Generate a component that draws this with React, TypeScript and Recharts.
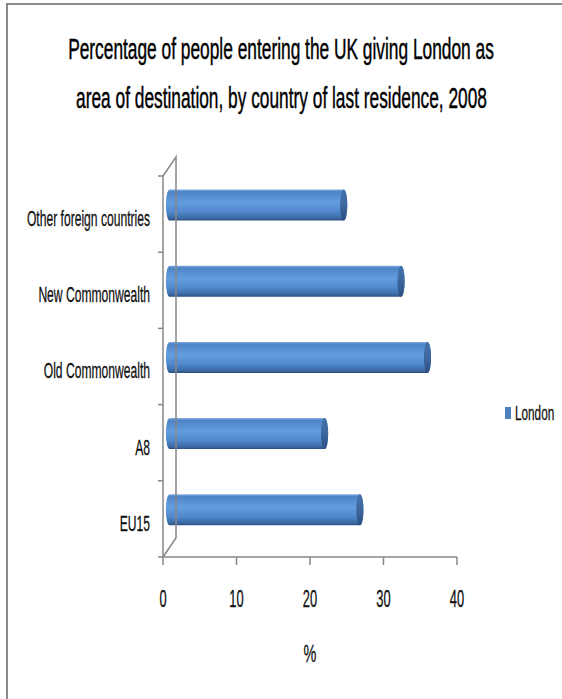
import React from 'react';
import { BarChart, Bar, XAxis, YAxis, Legend, ReferenceLine } from 'recharts';

const categories = ['Other foreign countries', 'New Commonwealth', 'Old Commonwealth', 'A8', 'EU15'];
const londonValues = [23.7, 31.5, 35.1, 21.1, 25.9];
const xTicks = [0, 10, 20, 30, 40];
const seriesName = 'London';
const titleLines = [
  'Percentage of people entering the UK giving London as',
  'area of destination, by country of last residence, 2008',
];
const xAxisTitle = '%';

const data = categories.map((c, i) => ({ category: c, [seriesName]: londonValues[i] }));

const AXIS = '#878787';
const TEXT = '#111';
const FONT = '"Liberation Sans", Arial, sans-serif';
const DEPTH_X = 13;
const DEPTH_Y = 19;

let measureCtx: CanvasRenderingContext2D | null = null;
function measureText(text: string, size: number): number {
  if (!measureCtx) {
    const c = document.createElement('canvas');
    measureCtx = c.getContext('2d');
  }
  if (!measureCtx) return text.length * size * 0.5;
  measureCtx.font = `${size}px "Liberation Sans"`;
  return measureCtx.measureText(text).width;
}

const XTick = (props: any) => {
  const { x, y, payload } = props;
  return (
    <g transform={`translate(${x},${y}) scale(0.56,1)`}>
      <text x={0} y={0} dy="0.71em" textAnchor="middle" fontSize={23} fill={TEXT} fontFamily={FONT} stroke={TEXT} strokeWidth={0.3}>
        {payload.value}
      </text>
    </g>
  );
};

const YTick = (props: any) => {
  const { x, y, payload } = props;
  const half = payload && typeof payload.offset === 'number' && payload.offset > 0 ? payload.offset : 38.1;
  const isLast = payload.index === categories.length - 1 || payload.value === categories[categories.length - 1];
  return (
    <g>
      <line x1={x + 8} x2={x + 13} y1={y - half} y2={y - half} stroke={AXIS} strokeWidth={1.5} />
      {isLast ? <line x1={x + 8} x2={x + 13} y1={y + half} y2={y + half} stroke={AXIS} strokeWidth={1.5} /> : null}
      <g transform={`translate(${x},${y + 4}) scale(0.55,1)`}>
        <text x={0} y={0} dy="0.355em" textAnchor="end" fontSize={22} fill={TEXT} fontFamily={FONT} stroke={TEXT} strokeWidth={0.3}>
          {payload.value}
        </text>
      </g>
    </g>
  );
};

const CylinderBar = (props: any) => {
  const { x, y, width, height, index } = props;
  if (width == null || height == null) return null;
  const dx = DEPTH_X / 2;
  const dy = -DEPTH_Y / 2;
  const x0 = x + dx;
  const x1 = x + dx + width;
  const y0 = y + dy;
  const h = height;
  const rx = 3.6;
  const ry = h / 2;
  const gid = `cyl-body-${index}`;
  const cid = `cyl-cap-${index}`;
  const body = `M ${x0} ${y0} L ${x1} ${y0} A ${rx} ${ry} 0 0 1 ${x1} ${y0 + h} L ${x0} ${y0 + h} A ${rx} ${ry} 0 0 1 ${x0} ${y0} Z`;
  return (
    <g>
      <defs>
        <linearGradient id={gid} x1="0" y1="0" x2="0" y2="1">
          <stop offset="0%" stopColor="#86b0e4" />
          <stop offset="7%" stopColor="#4d84c6" />
          <stop offset="42%" stopColor="#639de0" />
          <stop offset="72%" stopColor="#5088cb" />
          <stop offset="92%" stopColor="#3c6aa4" />
          <stop offset="100%" stopColor="#2b4e7e" />
        </linearGradient>
        <linearGradient id={cid} x1="0" y1="0" x2="0" y2="1">
          <stop offset="0%" stopColor="#4672ab" />
          <stop offset="50%" stopColor="#3d679e" />
          <stop offset="100%" stopColor="#2c4f80" />
        </linearGradient>
      </defs>
      <path d={body} fill={`url(#${gid})`} />
      <ellipse cx={x1} cy={y0 + ry} rx={rx} ry={ry} fill={`url(#${cid})`} />
    </g>
  );
};

const BackWall = (props: any) => {
  const { x1, y1, y2 } = props;
  const top = Math.min(y1, y2);
  const bottom = Math.max(y1, y2);
  const d = `M ${x1} ${top} L ${x1 + DEPTH_X} ${top - DEPTH_Y} L ${x1 + DEPTH_X} ${bottom - DEPTH_Y} L ${x1} ${bottom}`;
  return <path d={d} fill="none" stroke={AXIS} strokeWidth={1.5} />;
};

const LegendContent = () => (
  <svg width={60} height={20} style={{ display: 'block', overflow: 'visible' }}>
    <rect x={2} y={4} width={6} height={12} fill="#4f81bd" />
    <g transform="translate(12,10) scale(0.56,1)">
      <text x={0} y={0} dy="0.355em" fontSize={21} fill={TEXT} fontFamily={FONT} stroke={TEXT} strokeWidth={0.3}>
        {seriesName}
      </text>
    </g>
  </svg>
);

const XLabel = (props: any) => {
  const { viewBox } = props;
  if (!viewBox) return null;
  const cx = viewBox.x + viewBox.width / 2;
  return (
    <g transform={`translate(${cx},${viewBox.y + 105}) scale(0.6,1)`}>
      <text x={0} y={0} textAnchor="middle" fontSize={24} fill={TEXT} fontFamily={FONT} stroke={TEXT} strokeWidth={0.3}>
        {xAxisTitle}
      </text>
    </g>
  );
};

const TitleLine = ({ text, cx, y, width }: { text: string; cx: number; y: number; width: number }) => {
  const size = 29;
  const natural = measureText(text, size);
  const sx = natural > 0 ? width / natural : 0.6;
  return (
    <g transform={`translate(${cx},${y}) scale(${sx},1)`}>
      <text x={0} y={0} textAnchor="middle" fontSize={size} fill="#000" fontFamily={FONT} stroke="#000" strokeWidth={0.45}>
        {text}
      </text>
    </g>
  );
};

export default function App() {
  return (
    <div style={{ position: 'absolute', left: 0, top: 0, width: 562, height: 699, overflow: 'hidden', background: '#fff' }}>
      <div
        style={{
          position: 'absolute',
          left: 6,
          top: 3,
          width: 700,
          height: 800,
          borderTop: '2px solid #8a8a8a',
          borderLeft: '2px solid #8a8a8a',
        }}
      />
      <svg width={562} height={140} style={{ position: 'absolute', left: 0, top: 0 }}>
        <TitleLine text={titleLines[0]} cx={281} y={59} width={426} />
        <TitleLine text={titleLines[1]} cx={281.5} y={108} width={411} />
      </svg>
      <div style={{ position: 'absolute', left: 0, top: 0 }}>
        <BarChart
          width={562}
          height={699}
          layout="vertical"
          data={data}
          margin={{ top: 176, right: 105, bottom: 82, left: 13 }}
        >
          <XAxis
            type="number"
            domain={[0, 40]}
            ticks={xTicks}
            height={60}
            tickSize={8}
            tickMargin={26}
            axisLine={{ stroke: AXIS, strokeWidth: 1.5 }}
            tickLine={{ stroke: AXIS, strokeWidth: 1.5 }}
            tick={<XTick />}
            interval={0}
            label={<XLabel />}
          />
          <YAxis
            type="category"
            dataKey="category"
            width={150}
            tickSize={5}
            tickMargin={8}
            tickLine={false}
            axisLine={{ stroke: AXIS, strokeWidth: 1.5 }}
            tick={<YTick />}
            interval={0}
          />
          <ReferenceLine x={0} shape={BackWall} ifOverflow="visible" />
          <Legend
            layout="vertical"
            align="center"
            verticalAlign="middle"
            wrapperStyle={{ left: 503, top: 403, width: 60, height: 20 }}
            content={<LegendContent />}
          />
          <Bar dataKey={seriesName} barSize={31} fill="#4f81bd" shape={<CylinderBar />} isAnimationActive={false} />
        </BarChart>
      </div>
    </div>
  );
}
